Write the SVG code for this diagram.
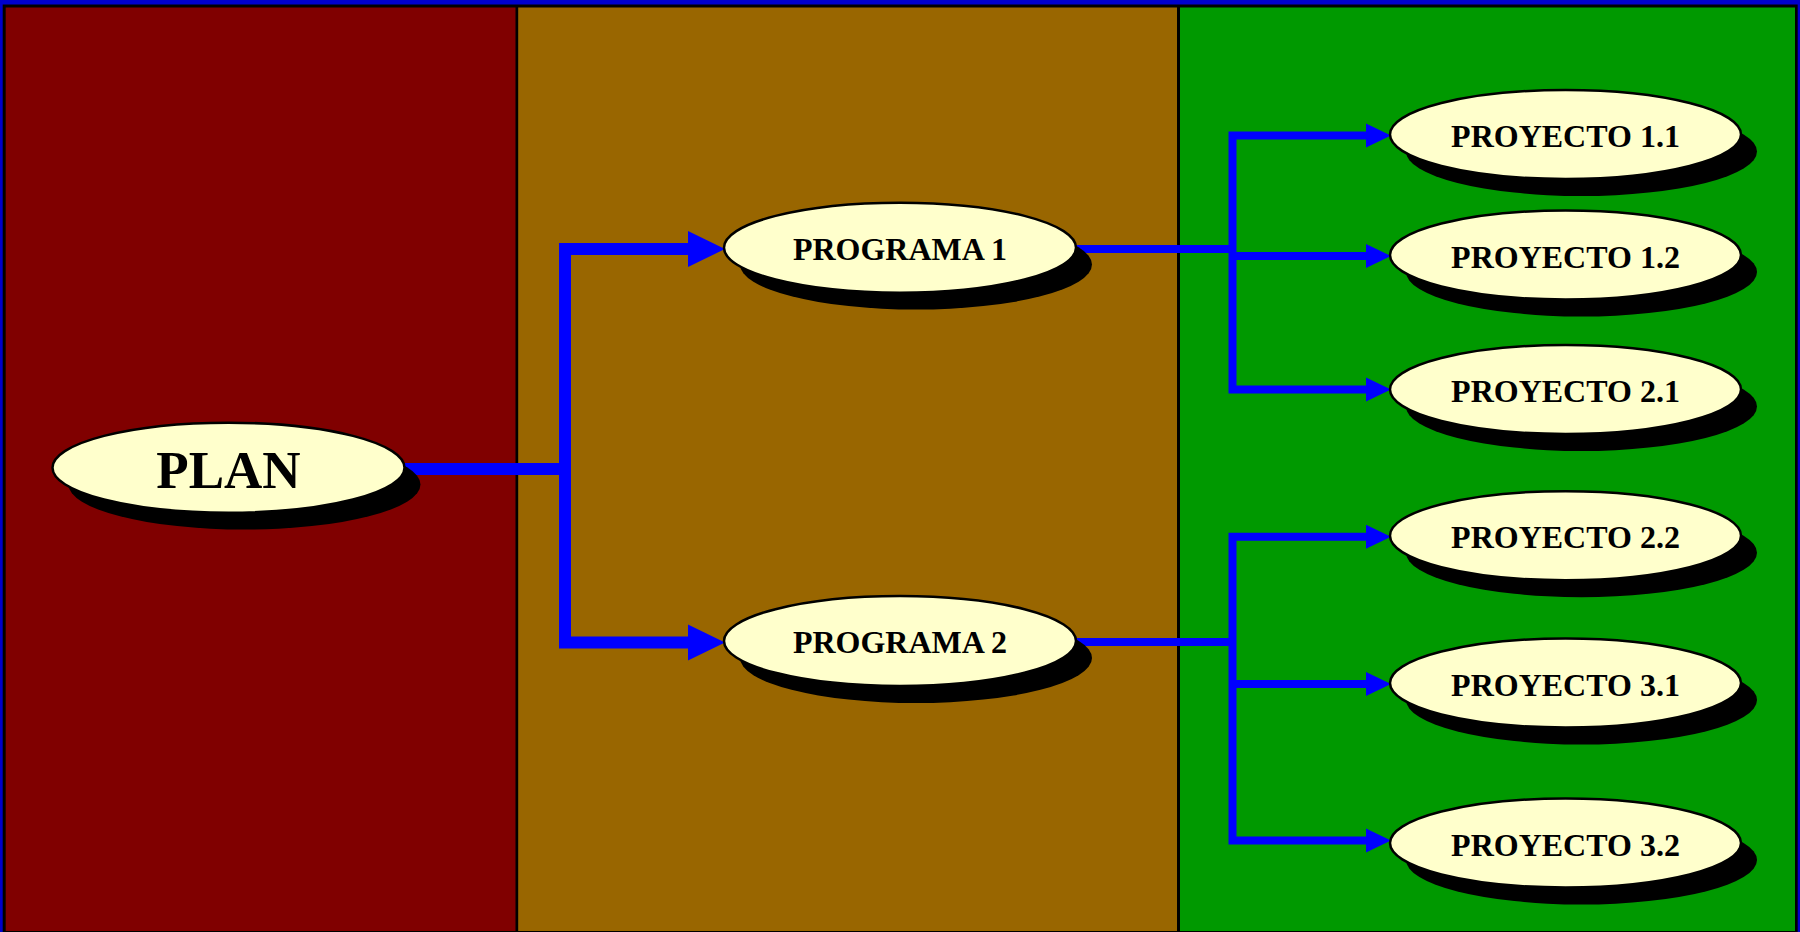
<svg xmlns="http://www.w3.org/2000/svg" width="1800" height="932" viewBox="0 0 1800 932">
<style>
.node{fill:#FFFFCC;stroke:#000;stroke-width:2.5}
.shadow{fill:#000}
.lbl{font-family:"Liberation Serif","Times New Roman",serif;font-weight:bold;fill:#000;text-anchor:middle}
.thick{fill:none;stroke:#0000FF;stroke-width:12;stroke-linejoin:miter}
.thin{fill:none;stroke:#0000FF;stroke-width:8;stroke-linejoin:miter}
.head{fill:#0000FF}
</style>
<g id="background">
<rect x="0" y="0" width="1800" height="932" fill="#0000CC"/>
<rect x="2.7" y="4.5" width="1795" height="928" fill="#000"/>
<rect x="5.7" y="7.5" width="509.8" height="923.5" fill="#800000"/>
<rect x="518.2" y="7.5" width="658.8" height="923.5" fill="#996600"/>
<rect x="1180" y="7.5" width="615" height="923.5" fill="#009900"/>
</g>
<g id="connectors">
<path class="thick" d="M404 469 H565"/>
<path class="thick" d="M694 249 H565 V642.5 H694"/>
<polygon class="head" points="688,231 725,249 688,267"/>
<polygon class="head" points="688,624.5 725,642.5 688,660.5"/>
<path class="thin" d="M1076 249 H1232.5"/>
<path class="thin" d="M1370 135.5 H1232.5 V389.5 H1370"/>
<path class="thin" d="M1232.5 256 H1370"/>
<polygon class="head" points="1366,123.5 1391,135.5 1366,147.5"/>
<polygon class="head" points="1366,244 1391,256 1366,268"/>
<polygon class="head" points="1366,377.5 1391,389.5 1366,401.5"/>
<path class="thin" d="M1076 642 H1232.5"/>
<path class="thin" d="M1370 536.7 H1232.5 V840.5 H1370"/>
<path class="thin" d="M1232.5 684 H1370"/>
<polygon class="head" points="1366,524.7 1391,536.7 1366,548.7"/>
<polygon class="head" points="1366,672 1391,684 1366,696"/>
<polygon class="head" points="1366,828.5 1391,840.5 1366,852.5"/>
</g>
<g id="plan">
<ellipse class="shadow" cx="244.5" cy="484.5" rx="176" ry="45"/>
<ellipse class="node" cx="228.5" cy="467.7" rx="176" ry="45"/>
<text class="lbl" x="228.5" y="488" font-size="53">PLAN</text>
</g>
<g id="programa1">
<ellipse class="shadow" cx="916" cy="264.5" rx="176" ry="45"/>
<ellipse class="node" cx="900" cy="247.7" rx="176" ry="45"/>
<text class="lbl" x="900" y="260" font-size="32">PROGRAMA 1</text>
</g>
<g id="programa2">
<ellipse class="shadow" cx="916" cy="658" rx="176" ry="45"/>
<ellipse class="node" cx="900" cy="641" rx="176" ry="45"/>
<text class="lbl" x="900" y="653" font-size="32">PROGRAMA 2</text>
</g>
<g id="proyecto11">
<ellipse class="shadow" cx="1581.5" cy="151.5" rx="175.5" ry="44.5"/>
<ellipse class="node" cx="1565.5" cy="134.5" rx="175.5" ry="44.5"/>
<text class="lbl" x="1565.5" y="147" font-size="32">PROYECTO 1.1</text>
</g>
<g id="proyecto12">
<ellipse class="shadow" cx="1581.5" cy="272" rx="175.5" ry="44.5"/>
<ellipse class="node" cx="1565.5" cy="255" rx="175.5" ry="44.5"/>
<text class="lbl" x="1565.5" y="267.5" font-size="32">PROYECTO 1.2</text>
</g>
<g id="proyecto21">
<ellipse class="shadow" cx="1581.5" cy="406.5" rx="175.5" ry="44.5"/>
<ellipse class="node" cx="1565.5" cy="389.5" rx="175.5" ry="44.5"/>
<text class="lbl" x="1565.5" y="402" font-size="32">PROYECTO 2.1</text>
</g>
<g id="proyecto22">
<ellipse class="shadow" cx="1581.5" cy="552.7" rx="175.5" ry="44.5"/>
<ellipse class="node" cx="1565.5" cy="535.7" rx="175.5" ry="44.5"/>
<text class="lbl" x="1565.5" y="548" font-size="32">PROYECTO 2.2</text>
</g>
<g id="proyecto31">
<ellipse class="shadow" cx="1581.5" cy="700" rx="175.5" ry="44.5"/>
<ellipse class="node" cx="1565.5" cy="683" rx="175.5" ry="44.5"/>
<text class="lbl" x="1565.5" y="695.5" font-size="32">PROYECTO 3.1</text>
</g>
<g id="proyecto32">
<ellipse class="shadow" cx="1581.5" cy="860" rx="175.5" ry="44.5"/>
<ellipse class="node" cx="1565.5" cy="843" rx="175.5" ry="44.5"/>
<text class="lbl" x="1565.5" y="855.5" font-size="32">PROYECTO 3.2</text>
</g>
</svg>
